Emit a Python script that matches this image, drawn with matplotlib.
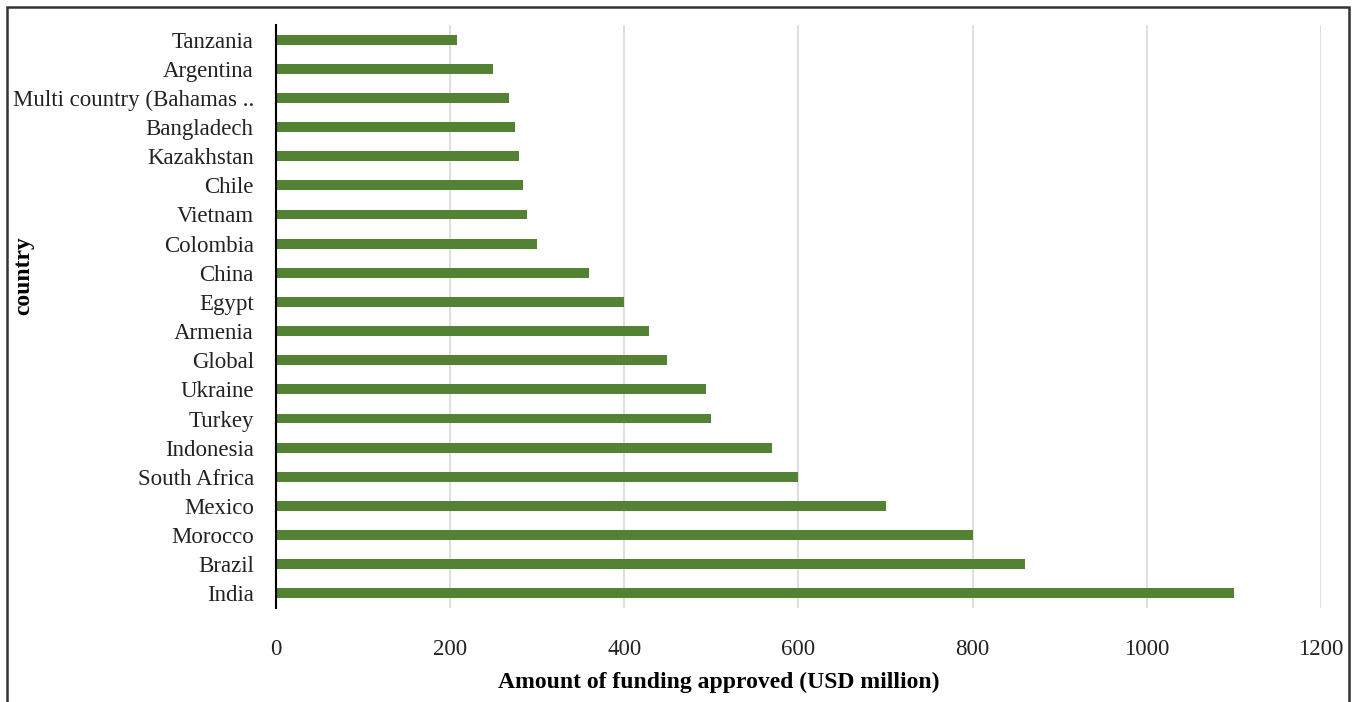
import matplotlib.pyplot as plt
from matplotlib.patches import Rectangle

countries = ['India', 'Brazil', 'Morocco', 'Mexico', 'South Africa', 'Indonesia',
             'Turkey', 'Ukraine', 'Global', 'Armenia', 'Egypt', 'China', 'Colombia',
             'Vietnam', 'Chile', 'Kazakhstan', 'Bangladech',
             'Multi country (Bahamas ..', 'Argentina', 'Tanzania']
funding = [1100, 860, 800, 700, 600, 570, 500, 494, 449, 428, 400, 360, 300,
           288, 284, 279, 275, 267, 249, 208]
xticks = [0, 200, 400, 600, 800, 1000, 1200]

plt.rcParams['font.family'] = ['Liberation Serif', 'DejaVu Serif']

fig = plt.figure(figsize=(13.59, 7.02), dpi=100)
ax = fig.add_axes([0.2031, 0.1339, 0.7689, 0.8305])

ax.barh(countries, funding, height=0.34, color='#548235', zorder=3)

ax.set_xlim(0, 1200)
ax.set_ylim(-0.5, len(countries) - 0.5)
ax.set_xticks(xticks)
ax.grid(axis='x', color='#d9d9d9', linewidth=1.2, zorder=0)
ax.set_axisbelow(True)

for s in ['top', 'right', 'bottom']:
    ax.spines[s].set_visible(False)
ax.spines['left'].set_color('black')
ax.spines['left'].set_linewidth(1.5)
ax.spines['left'].set_zorder(4)

ax.tick_params(axis='x', length=0, pad=22, labelsize=16.5, colors='#222222')
ax.tick_params(axis='y', length=0, pad=16, labelsize=16.5, colors='#222222')

ax.set_xlabel('Amount of funding approved (USD million)', fontsize=17,
              fontweight='bold')
ax.xaxis.set_label_coords(0.424, -0.109)
ax.set_ylabel('country', fontsize=17, fontweight='bold')
ax.yaxis.set_label_coords(-0.2315, 0.571)

# outer border round the picture
fig.patches.append(Rectangle((0.0052, -0.02), 0.9875, 1.0101, transform=fig.transFigure,
                             fill=False, edgecolor='#333333', linewidth=1.8))

fig.savefig('out.png', dpi=100)
